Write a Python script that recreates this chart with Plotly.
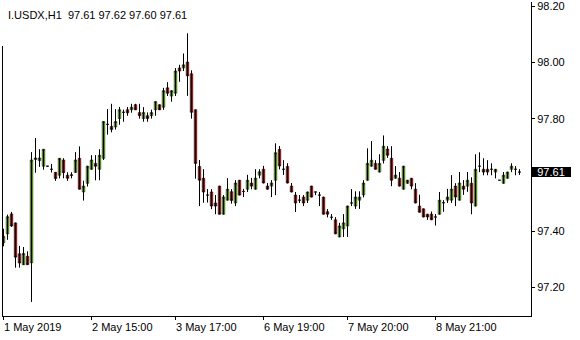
import plotly.graph_objects as go

# ---- data ----
bar_index = list(range(130))

open_ = [97.358, 97.390, 97.461, 97.429, 97.319, 97.280, 97.310, 97.287, 97.655, 97.651,
         97.631, 97.631, 97.620, 97.609, 97.599, 97.653, 97.599, 97.598, 97.609, 97.659,
         97.539, 97.570, 97.620, 97.641, 97.620, 97.659, 97.780, 97.773, 97.771, 97.801,
         97.823, 97.832, 97.832, 97.850, 97.822, 97.801, 97.811, 97.811, 97.832, 97.850,
         97.841, 97.910, 97.881, 97.891, 97.981, 97.981, 98.002, 97.960, 97.832, 97.630,
         97.588, 97.528, 97.539, 97.500, 97.560, 97.460, 97.510, 97.540, 97.500, 97.581,
         97.541, 97.549, 97.571, 97.549, 97.599, 97.620, 97.560, 97.560, 97.581, 97.691,
         97.620, 97.630, 97.560, 97.528, 97.510, 97.521, 97.510, 97.560, 97.539, 97.528,
         97.521, 97.469, 97.449, 97.440, 97.379, 97.408, 97.418, 97.500, 97.489, 97.510,
         97.529, 97.581, 97.631, 97.641, 97.610, 97.652, 97.692, 97.659, 97.588, 97.588,
         97.549, 97.570, 97.588, 97.549, 97.489, 97.479, 97.460, 97.460, 97.450, 97.460,
         97.501, 97.510, 97.510, 97.560, 97.510, 97.560, 97.560, 97.570, 97.489, 97.631,
         97.620, 97.620, 97.620, 97.610, 97.581, 97.570, 97.588, 97.620, 97.620, 97.610]

high = [97.408, 97.458, 97.468, 97.430, 97.347, 97.343, 97.327, 97.681, 97.731, 97.691,
        97.692, 97.632, 97.639, 97.610, 97.660, 97.659, 97.609, 97.609, 97.681, 97.701,
        97.579, 97.632, 97.670, 97.670, 97.691, 97.791, 97.834, 97.853, 97.834, 97.842,
        97.832, 97.842, 97.853, 97.853, 97.853, 97.841, 97.822, 97.832, 97.862, 97.851,
        97.910, 97.930, 97.901, 97.980, 97.992, 98.032, 98.104, 97.972, 97.833, 97.653,
        97.620, 97.549, 97.549, 97.528, 97.561, 97.528, 97.588, 97.549, 97.581, 97.582,
        97.550, 97.600, 97.589, 97.620, 97.620, 97.632, 97.571, 97.581, 97.712, 97.703,
        97.652, 97.641, 97.571, 97.539, 97.528, 97.528, 97.540, 97.561, 97.540, 97.539,
        97.522, 97.478, 97.460, 97.449, 97.429, 97.460, 97.490, 97.549, 97.541, 97.541,
        97.581, 97.694, 97.720, 97.652, 97.673, 97.740, 97.702, 97.702, 97.631, 97.610,
        97.632, 97.582, 97.589, 97.570, 97.529, 97.480, 97.461, 97.469, 97.460, 97.539,
        97.510, 97.550, 97.599, 97.570, 97.610, 97.581, 97.610, 97.591, 97.673, 97.680,
        97.659, 97.652, 97.641, 97.621, 97.581, 97.610, 97.611, 97.641, 97.631, 97.620]

low = [97.346, 97.369, 97.415, 97.270, 97.270, 97.279, 97.279, 97.148, 97.608, 97.629,
       97.619, 97.630, 97.609, 97.579, 97.588, 97.588, 97.579, 97.588, 97.608, 97.548,
       97.509, 97.559, 97.619, 97.581, 97.581, 97.653, 97.744, 97.752, 97.762, 97.779,
       97.790, 97.811, 97.822, 97.831, 97.801, 97.790, 97.790, 97.801, 97.811, 97.831,
       97.832, 97.881, 97.861, 97.881, 97.932, 97.970, 97.882, 97.801, 97.587, 97.489,
       97.501, 97.502, 97.478, 97.460, 97.459, 97.459, 97.509, 97.498, 97.489, 97.527,
       97.521, 97.539, 97.549, 97.548, 97.588, 97.570, 97.548, 97.521, 97.528, 97.620,
       97.600, 97.570, 97.538, 97.468, 97.500, 97.489, 97.500, 97.520, 97.528, 97.489,
       97.459, 97.449, 97.440, 97.389, 97.378, 97.379, 97.379, 97.489, 97.479, 97.479,
       97.520, 97.580, 97.630, 97.619, 97.609, 97.641, 97.661, 97.560, 97.587, 97.559,
       97.548, 97.569, 97.549, 97.499, 97.466, 97.449, 97.440, 97.439, 97.420, 97.459,
       97.469, 97.500, 97.500, 97.489, 97.509, 97.529, 97.540, 97.460, 97.488, 97.610,
       97.599, 97.599, 97.599, 97.588, 97.581, 97.569, 97.587, 97.610, 97.599, 97.600]

close = [97.381, 97.451, 97.418, 97.307, 97.286, 97.320, 97.280, 97.653, 97.660, 97.660,
         97.691, 97.631, 97.620, 97.587, 97.659, 97.608, 97.588, 97.600, 97.653, 97.549,
         97.560, 97.631, 97.653, 97.631, 97.670, 97.790, 97.780, 97.762, 97.790, 97.832,
         97.823, 97.821, 97.841, 97.832, 97.811, 97.822, 97.801, 97.822, 97.861, 97.832,
         97.900, 97.891, 97.900, 97.970, 97.970, 97.992, 97.953, 97.823, 97.641, 97.581,
         97.539, 97.528, 97.489, 97.489, 97.460, 97.521, 97.549, 97.509, 97.571, 97.528,
         97.541, 97.581, 97.560, 97.588, 97.611, 97.571, 97.549, 97.571, 97.679, 97.632,
         97.620, 97.571, 97.539, 97.500, 97.510, 97.500, 97.539, 97.521, 97.539, 97.528,
         97.460, 97.460, 97.449, 97.390, 97.418, 97.429, 97.489, 97.500, 97.521, 97.521,
         97.571, 97.641, 97.652, 97.620, 97.641, 97.702, 97.670, 97.581, 97.599, 97.560,
         97.631, 97.581, 97.560, 97.500, 97.467, 97.450, 97.450, 97.440, 97.450, 97.510,
         97.501, 97.521, 97.549, 97.521, 97.571, 97.549, 97.581, 97.500, 97.620, 97.631,
         97.610, 97.610, 97.620, 97.620, 97.581, 97.599, 97.610, 97.631, 97.620, 97.610]

time_tick_bars = [0, 22, 43, 65, 86, 108]
time_tick_labels = ["1 May 2019", "2 May 15:00", "3 May 17:00",
                    "6 May 19:00", "7 May 20:00", "8 May 21:00"]
price_ticks = [97.2, 97.4, 97.6, 97.8, 98.0, 98.2]
symbol = "I.USDX,H1"
last_bar = (97.61, 97.62, 97.60, 97.61)  # O H L C shown in header
current_price = 97.61

FONT = "Liberation Sans, Arial, sans-serif"

fig = go.Figure()

# wicks (high-low), 1px black, drawn beneath the bodies
wick_x, wick_y = [], []
for i, h, l in zip(bar_index, high, low):
    wick_x += [i, i, None]
    wick_y += [l, h, None]
fig.add_trace(go.Scatter(x=wick_x, y=wick_y, mode="lines",
                         line=dict(color="black", width=1), hoverinfo="skip"))

# bodies
fig.add_trace(go.Candlestick(
    x=bar_index, open=open_, high=high, low=low, close=close,
    increasing=dict(fillcolor="#7CFC00", line=dict(color="black", width=0.6)),
    decreasing=dict(fillcolor="#FF0000", line=dict(color="black", width=0.6)),
    whiskerwidth=0, hoverinfo="skip",
))

annotations = []
for b, t in zip(time_tick_bars, time_tick_labels):
    annotations.append(dict(
        x=b, xref="x", y=0, yref="paper", text=t, showarrow=False,
        xanchor="left", yanchor="top", xshift=-2, yshift=-3,
        font=dict(family=FONT, size=11, color="black"),
    ))

annotations.append(dict(
    x=0, xref="paper", y=1, yref="paper",
    text=symbol + "\u00a0\u00a0" + " ".join(f"{v:.2f}" for v in last_bar),
    showarrow=False, xanchor="left", yanchor="top", xshift=4, yshift=-5,
    font=dict(family=FONT, size=11, color="black"),
))

annotations.append(dict(
    x=1, xref="paper", y=current_price, yref="y", text=f"{current_price:.2f}",
    showarrow=False, xanchor="left", yanchor="middle", xshift=0,
    bgcolor="black", font=dict(family=FONT, size=11, color="white"),
    width=40, height=10, borderpad=0, borderwidth=0,
))

# price labels: the one under the current-price box is hidden, as in the reference
price_labels = ["" if abs(p - current_price) < 0.03 else f"{p:.2f}" for p in price_ticks]

fig.update_layout(
    width=580, height=340,
    margin=dict(l=2, r=49, t=0, b=24),
    paper_bgcolor="white", plot_bgcolor="white",
    showlegend=False,
    boxgap=0.375, boxgroupgap=0,
    annotations=annotations,
    shapes=[dict(type="line", xref="paper", yref="paper", x0=0.000945, x1=0.000945,
                 y0=0, y1=0.86, line=dict(color="black", width=1))],
    xaxis=dict(
        range=[-0.375, 131.875], rangeslider=dict(visible=False),
        showgrid=False, zeroline=False,
        showline=True, linecolor="black", linewidth=1,
        tickmode="array", tickvals=time_tick_bars, showticklabels=False,
        ticks="outside", ticklen=3, tickcolor="black", tickwidth=1,
    ),
    yaxis=dict(
        range=[97.0973, 98.2159], side="right",
        showgrid=False, zeroline=False,
        showline=True, linecolor="black", linewidth=1,
        tickmode="array", tickvals=price_ticks, ticktext=price_labels,
        ticks="outside", ticklen=3, tickcolor="black", tickwidth=1,
        ticklabeloverflow="allow",
        tickfont=dict(family=FONT, size=11, color="black"),
    ),
)

fig.write_html("out.html")
